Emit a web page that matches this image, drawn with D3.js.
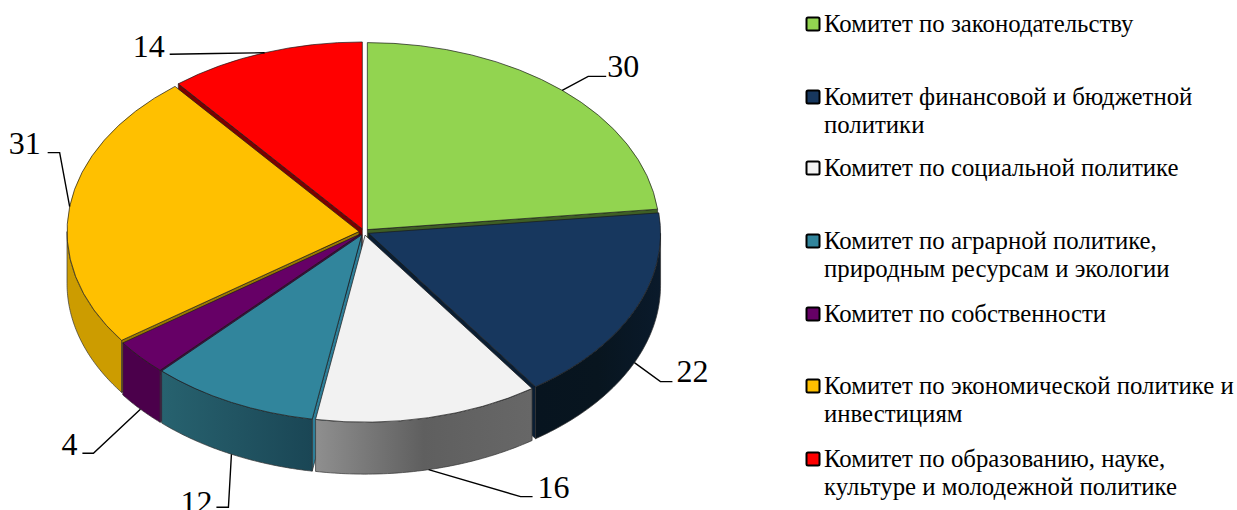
<!DOCTYPE html>
<html>
<head>
<meta charset="utf-8">
<script src="https://cdn.jsdelivr.net/npm/d3@7"></script>
<style>
  html, body { margin: 0; padding: 0; background: #fff; overflow: hidden; }
  svg { display: block; }
  text { font-family: "Liberation Serif", serif; fill: #000; }
</style>
</head>
<body>
<svg id="chart" width="1237" height="510"></svg>
<script>
// Data
const categories = [
  'Комитет по законодательству',
  'Комитет финансовой и бюджетной политики',
  'Комитет по социальной политике',
  'Комитет по аграрной политике, природным ресурсам и экологии',
  'Комитет по собственности',
  'Комитет по экономической политике и инвестициям',
  'Комитет по образованию, науке, культуре и молодежной политике'
];
const values = [30, 22, 16, 12, 4, 31, 14];

// Legend line breaks
const legendLines = [
  ['Комитет по законодательству'],
  ['Комитет финансовой и бюджетной', 'политики'],
  ['Комитет по социальной политике'],
  ['Комитет по аграрной политике,', 'природным ресурсам и экологии'],
  ['Комитет по собственности'],
  ['Комитет по экономической политике и', 'инвестициям'],
  ['Комитет по образованию, науке,', 'культуре и молодежной политике']
];
const legendBaselines = [32, 105, 176, 249, 322, 394, 467];

// Colours
const topColors = ['#92d450', '#17375e', '#f2f2f2', '#31859c', '#660066', '#ffc000', '#ff0000'];
const wallColors = ['#3f5f25', '#0a1e33', '#777777', '#2e7f99', '#4a004a', '#9c7b00', '#7a0000'];
const rimColors = [
  ['#496a28', '#496a28', '#496a28'],
  ['#07141f', '#08151f', '#0a1a2b'],
  ['#8f8f8f', '#5f5f5f', '#676767'],
  ['#27626f', '#215462', '#1a4655'],
  ['#4b004b', '#4b004b', '#4b004b'],
  ['#cc9c00', '#cc9c00', '#cc9c00'],
  ['#7f0000', '#7f0000', '#7f0000']
];

// Back to front
const drawOrder = [0, 6, 1, 5, 4, 3, 2];

// Leader elbow and end, relative to the anchor on the pie edge
const leaders = [
  { elbow: [26, -14], end: [44, -14], anchor: 'start', gap: 1, dy: 1 },
  { elbow: [26, 19], end: [38, 19], anchor: 'start', gap: 4, dy: 0 },
  { elbow: [92, 27], end: [104, 27], anchor: 'start', gap: 5, dy: 1 },
  { elbow: [-3, 53], end: [-15, 53], anchor: 'end', gap: 4, dy: 6 },
  { elbow: [-47, 44], end: [-58, 44], anchor: 'end', gap: 5, dy: 2 },
  { elbow: [-10, -54], end: [-22, -54], anchor: 'end', gap: 7, dy: 1 },
  { elbow: [-50, 0.7], end: [-95, 1.5], anchor: 'end', gap: 5, dy: 3 }
];

const cx = 364, cy = 232, rx = 292, ry = 187, depth = 52, explode = 5;
const yScale = ry / rx;

const svg = d3.select('#chart');
const defs = svg.append('defs');

const slices = d3.pie().sort(null).value(d => d)(values);
const arc = d3.arc().innerRadius(0).outerRadius(rx);

// Project a pie angle on to the tilted ellipse
const rimPoint = (a, t) => [t.x + Math.sin(a) * rx, t.y - Math.cos(a) * ry];

const tips = slices.map(s => {
  const mid = (s.startAngle + s.endAngle) / 2;
  return {
    x: cx + Math.sin(mid) * explode,
    y: cy - Math.cos(mid) * explode * yScale
  };
});

const stroke = '#1a1a1a';
const line = d3.line();

values.forEach((v, i) => {
  const g = defs.append('linearGradient')
    .attr('id', `rim${i}`)
    .attr('x1', 0).attr('x2', 1).attr('y1', 0).attr('y2', 0);
  g.append('stop').attr('offset', '0%').attr('stop-color', rimColors[i][0]);
  g.append('stop').attr('offset', '50%').attr('stop-color', rimColors[i][1]);
  g.append('stop').attr('offset', '100%').attr('stop-color', rimColors[i][2]);
});

const pieG = svg.append('g');

drawOrder.forEach(i => {
  const s = slices[i], t = tips[i];
  const g = pieG.append('g');

  // Cut faces that look towards the viewer
  const wall = a => {
    const p = rimPoint(a, t);
    g.append('path')
      .attr('d', line([[t.x, t.y], p, [p[0], p[1] + depth], [t.x, t.y + depth]]) + 'Z')
      .attr('fill', wallColors[i])
      .attr('stroke', stroke)
      .attr('stroke-width', 0.6);
  };
  if (s.startAngle > Math.PI) wall(s.startAngle);
  if (s.endAngle < Math.PI) wall(s.endAngle);

  // Outer wall, front half only
  const a0 = Math.max(s.startAngle, Math.PI / 2);
  const a1 = Math.min(s.endAngle, Math.PI * 1.5);
  if (a1 > a0) {
    const angles = d3.range(0, 61).map(k => a0 + (a1 - a0) * k / 60);
    const upper = angles.map(a => rimPoint(a, t));
    const lower = upper.map(p => [p[0], p[1] + depth]).reverse();
    g.append('path')
      .attr('d', line(upper.concat(lower)) + 'Z')
      .attr('fill', `url(#rim${i})`)
      .attr('stroke', '#333')
      .attr('stroke-width', 0.7);
  }

  // Top face
  g.append('path')
    .attr('d', arc(s))
    .attr('transform', `translate(${t.x},${t.y}) scale(1,${yScale})`)
    .attr('fill', topColors[i])
    .attr('stroke', stroke)
    .attr('stroke-width', 0.7)
    .attr('vector-effect', 'non-scaling-stroke')
    .append('title').text(categories[i]);
});

// Value labels with leader lines
slices.forEach((s, i) => {
  const mid = (s.startAngle + s.endAngle) / 2;
  const p = rimPoint(mid, tips[i]);
  if (Math.cos(mid) < 0) p[1] += depth;
  const l = leaders[i];
  const elbow = [p[0] + l.elbow[0], p[1] + l.elbow[1]];
  const end = [p[0] + l.end[0], p[1] + l.end[1]];

  svg.append('path')
    .attr('d', line([p, elbow, end]))
    .attr('fill', 'none')
    .attr('stroke', '#000')
    .attr('stroke-width', 1.4);

  svg.append('text')
    .attr('x', end[0] + (l.anchor === 'start' ? l.gap : -l.gap))
    .attr('y', end[1] + l.dy)
    .attr('text-anchor', l.anchor)
    .style('font-size', '32px')
    .text(values[i]);
});

// Legend
const legend = svg.append('g');
legendLines.forEach((lines, i) => {
  const y = legendBaselines[i];
  legend.append('rect')
    .attr('x', 806.5)
    .attr('y', y - 14.5)
    .attr('width', 13)
    .attr('height', 13)
    .attr('rx', 1.5)
    .attr('fill', topColors[i])
    .attr('stroke', '#000')
    .attr('stroke-width', 2);
  lines.forEach((txt, k) => {
    legend.append('text')
      .attr('x', 824)
      .attr('y', y + k * 28)
      .style('font-size', '24.8px')
      .text(txt);
  });
});
</script>
</body>
</html>
